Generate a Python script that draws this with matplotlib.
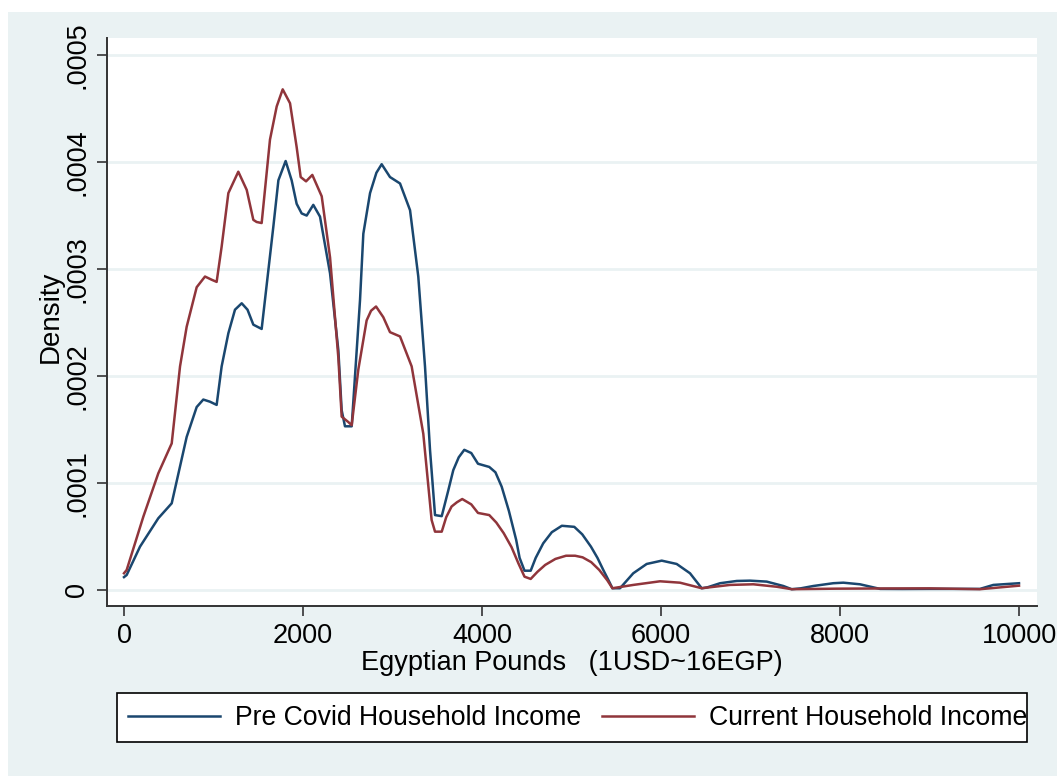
import matplotlib

matplotlib.use("Agg")
import matplotlib.pyplot as plt  # noqa: E402
from matplotlib.patches import Rectangle  # noqa: E402

# Kernel density estimates (Egyptian pounds, density)
pre_x = [0, 30, 179, 383, 533, 700, 812, 886, 960, 1035, 1091, 1166, 1240,
         1315, 1380, 1445, 1538, 1613, 1669, 1725, 1806, 1873, 1929, 1985,
         2041, 2115, 2190, 2302, 2395, 2432, 2469, 2544, 2637, 2674, 2749,
         2820, 2879, 2972, 3084, 3196, 3288, 3363, 3419, 3475, 3550, 3620,
         3679, 3740, 3802, 3880, 3955, 4081, 4150, 4220, 4300, 4382, 4420,
         4475, 4544, 4600, 4684, 4780, 4892, 5031, 5120, 5217, 5290, 5355,
         5420, 5457, 5542, 5690, 5840, 6008, 6175, 6324, 6455, 6520, 6660,
         6846, 6994, 7181, 7367, 7460, 7560, 7702, 7925, 8037, 8223, 8447,
         8700, 9000, 9300, 9564, 9713, 10000]
pre_y = [0.000012, 0.000014, 0.0000405, 0.000067, 0.000081, 0.000143,
         0.000171, 0.000178, 0.000176, 0.000173, 0.000209, 0.00024, 0.000262,
         0.000268, 0.000262, 0.000248, 0.000244, 0.000299, 0.00034, 0.000383,
         0.000401, 0.000383, 0.000361, 0.000352, 0.00035, 0.00036, 0.000349,
         0.000296, 0.000224, 0.000168, 0.000153, 0.000153, 0.000271,
         0.000333, 0.000371, 0.00039, 0.000398, 0.000386, 0.00038, 0.000355,
         0.000293, 0.000209, 0.000131, 0.00007, 0.000069, 0.000092, 0.000112,
         0.000124, 0.000131, 0.000128, 0.000118, 0.000115, 0.00011,
         0.0000965, 0.000074, 0.0000467, 0.00003, 0.000018, 0.000018,
         0.00003, 0.0000436, 0.000054, 0.00006, 0.000059, 0.000052,
         0.0000405, 0.00003, 0.0000187, 0.000008, 0.0000016, 0.0000016,
         0.0000156, 0.0000243, 0.0000274, 0.0000243, 0.0000156, 0.0000016,
         0.0000025, 0.0000063, 0.0000084, 0.0000087, 0.0000078, 0.0000037,
         0.0000007, 0.0000015, 0.0000037, 0.0000063, 0.0000068, 0.0000053,
         0.000001, 0.0000009, 0.000001, 0.000001, 0.000001, 0.0000047,
         0.0000063]

cur_x = [0, 30, 216, 383, 533, 626, 700, 812, 905, 980, 1035, 1091, 1166,
         1277, 1371, 1445, 1482, 1538, 1631, 1706, 1773, 1855, 1929, 1974,
         2034, 2104, 2209, 2302, 2395, 2432, 2506, 2544, 2618, 2711, 2760,
         2816, 2897, 2972, 3084, 3214, 3344, 3437, 3475, 3550, 3600, 3660,
         3720, 3779, 3880, 3955, 4081, 4160, 4243, 4330, 4406, 4475, 4544,
         4620, 4706, 4820, 4939, 5040, 5124, 5220, 5310, 5400, 5457, 5690,
         5989, 6212, 6455, 6771, 7031, 7292, 7460, 7952, 8500, 9000, 9564,
         10000]
cur_y = [0.0000156, 0.0000187, 0.0000685, 0.000109, 0.000137, 0.000209,
         0.000246, 0.000283, 0.000293, 0.00029, 0.000288, 0.000321, 0.000371,
         0.000391, 0.000374, 0.000346, 0.000344, 0.000343, 0.000421,
         0.000452, 0.000468, 0.000455, 0.000414, 0.000386, 0.000382,
         0.000388, 0.000368, 0.000311, 0.000217, 0.000162, 0.000157,
         0.000154, 0.000206, 0.000252, 0.000261, 0.000265, 0.000255,
         0.000241, 0.000237, 0.000209, 0.000146, 0.0000654, 0.0000545,
         0.0000545, 0.000068, 0.000078, 0.000082, 0.000085, 0.00008,
         0.000072, 0.00007, 0.000063, 0.000053, 0.00004, 0.000025, 0.0000124,
         0.0000103, 0.000017, 0.0000234, 0.000029, 0.000032, 0.000032,
         0.0000305, 0.000026, 0.0000187, 0.000009, 0.0000016, 0.0000047,
         0.0000081, 0.0000068, 0.0000016, 0.0000047, 0.0000053, 0.000003,
         0.0000007, 0.0000012, 0.0000014, 0.0000015, 0.0000007, 0.000004]

x_ticks = [0, 2000, 4000, 6000, 8000, 10000]
y_ticks = [0, 0.0001, 0.0002, 0.0003, 0.0004, 0.0005]
y_labels = ["0", ".0001", ".0002", ".0003", ".0004", ".0005"]

BG = "#EAF2F3"
BLUE = "#1A476F"
RED = "#90353B"
W, H = 1057, 776

plt.rcParams["font.family"] = ["Liberation Sans", "DejaVu Sans"]

fig = plt.figure(figsize=(W / 100, H / 100), dpi=100, facecolor="white")
fig.patches.append(Rectangle((8 / W, 0), 1, 1 - 12 / H, transform=fig.transFigure,
                             facecolor=BG, edgecolor="none", zorder=-10))

ax = fig.add_axes([107 / W, 1 - 606 / H, 930 / W, 568 / H])
ax.set_facecolor("white")
ax.plot(pre_x, pre_y, color=BLUE, lw=1.8, label="Pre Covid Household Income")
ax.plot(cur_x, cur_y, color=RED, lw=1.8, label="Current Household Income")

ax.set_xlim(-190, 10201)
ax.set_ylim(-0.000015, 0.000516)
ax.set_xticks(x_ticks)
ax.set_xticklabels([str(t) for t in x_ticks])
ax.set_yticks(y_ticks)
ax.set_yticklabels(y_labels, rotation=90, va="center")
ax.grid(axis="y", color=BG, lw=2)
ax.set_axisbelow(True)

for side in ("top", "right"):
    ax.spines[side].set_visible(False)
for side in ("left", "bottom"):
    ax.spines[side].set_color("#333333")
    ax.spines[side].set_linewidth(1.4)
ax.tick_params(length=7, width=1.2, color="#333333", labelsize=19.5, pad=5)

ax.set_xlabel("Egyptian Pounds   (1USD~16EGP)", fontsize=19.5, labelpad=1)
ax.set_ylabel("Density", fontsize=20)
ax.yaxis.set_label_coords(-0.046, 0.51)

# legend box as in the reference; the second label runs slightly past it
fig.patches.append(Rectangle((117 / W, 1 - 742 / H), 910 / W, 49 / H,
                             transform=fig.transFigure, facecolor="white",
                             edgecolor="black", lw=1.2, zorder=1))
fig.legend(loc="center left", ncol=2, borderaxespad=0, borderpad=0,
           bbox_to_anchor=(128 / W, 1 - 718 / H), fontsize=19.2,
           frameon=False, handlelength=3.45, handletextpad=0.58,
           columnspacing=0.75)

fig.savefig("out.png", dpi=100, facecolor=fig.get_facecolor())
plt.close(fig)
